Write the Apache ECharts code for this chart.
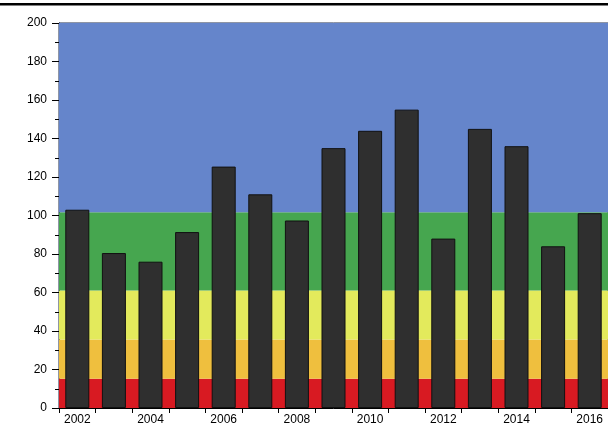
<!DOCTYPE html>
<html>
<head>
<meta charset="utf-8">
<script src="https://cdn.jsdelivr.net/npm/echarts@6/dist/echarts.min.js"></script>
<style>html,body{margin:0;padding:0;background:#fff;}#c{width:608px;height:427px;}</style>
</head>
<body>
<div id="c"></div>
<script>
const years = ['2002','2003','2004','2005','2006','2007','2008','2009','2010','2011','2012','2013','2014','2015','2016'];
const values = [103, 80.5, 76, 91.4, 125.4, 111, 97.4, 135, 144, 155, 88, 145, 136, 84, 101.2];
const bands = [
  {from: 0, to: 15.2, color: '#d81a22'},
  {from: 15.2, to: 35.6, color: '#efbf3e'},
  {from: 35.6, to: 61, color: '#e3ea5c'},
  {from: 61, to: 101.7, color: '#46a64f'},
  {from: 101.7, to: 200, color: '#6585cb'}
];
const chart = echarts.init(document.getElementById('c'));
chart.setOption({
  animation: false,
  graphic: [{type: 'rect', shape: {x: 0, y: 3, width: 608, height: 2.5}, style: {fill: '#000'}, z: 100}],
  grid: {left: 59, top: 23, right: -2, bottom: 19, show: true, borderColor: '#1d2a4a', borderWidth: 1, backgroundColor: 'transparent'},
  xAxis: {
    type: 'category', data: years, boundaryGap: true,
    axisLine: {lineStyle: {color: '#000', width: 1}},
    axisTick: {show: true, alignWithLabel: false, interval: 0, length: 5, lineStyle: {color: '#000'}},
    axisLabel: {interval: 1, color: '#000', fontFamily: 'Liberation Sans', fontSize: 12, margin: 6}
  },
  yAxis: {
    type: 'value', min: 0, max: 200, interval: 20,
    axisLine: {show: true, lineStyle: {color: '#000'}},
    axisTick: {show: true, length: 7, lineStyle: {color: '#000'}},
    minorTick: {show: true, splitNumber: 2, length: 4, lineStyle: {color: '#000'}},
    splitLine: {show: false},
    axisLabel: {color: '#000', fontFamily: 'Liberation Sans', fontSize: 12, margin: 12}
  },
  series: [
    {
      type: 'bar', data: [], z: 1, silent: true,
      markArea: {
        silent: true,
        data: bands.map(b => [{yAxis: b.from, itemStyle: {color: b.color, opacity: 1}}, {yAxis: b.to}])
      }
    },
    {
      type: 'bar', data: values, z: 3, barWidth: 24, barGap: '-100%',
      itemStyle: {color: '#2f2f2f', borderColor: '#111', borderWidth: 1}
    }
  ]
});
</script>
</body>
</html>
